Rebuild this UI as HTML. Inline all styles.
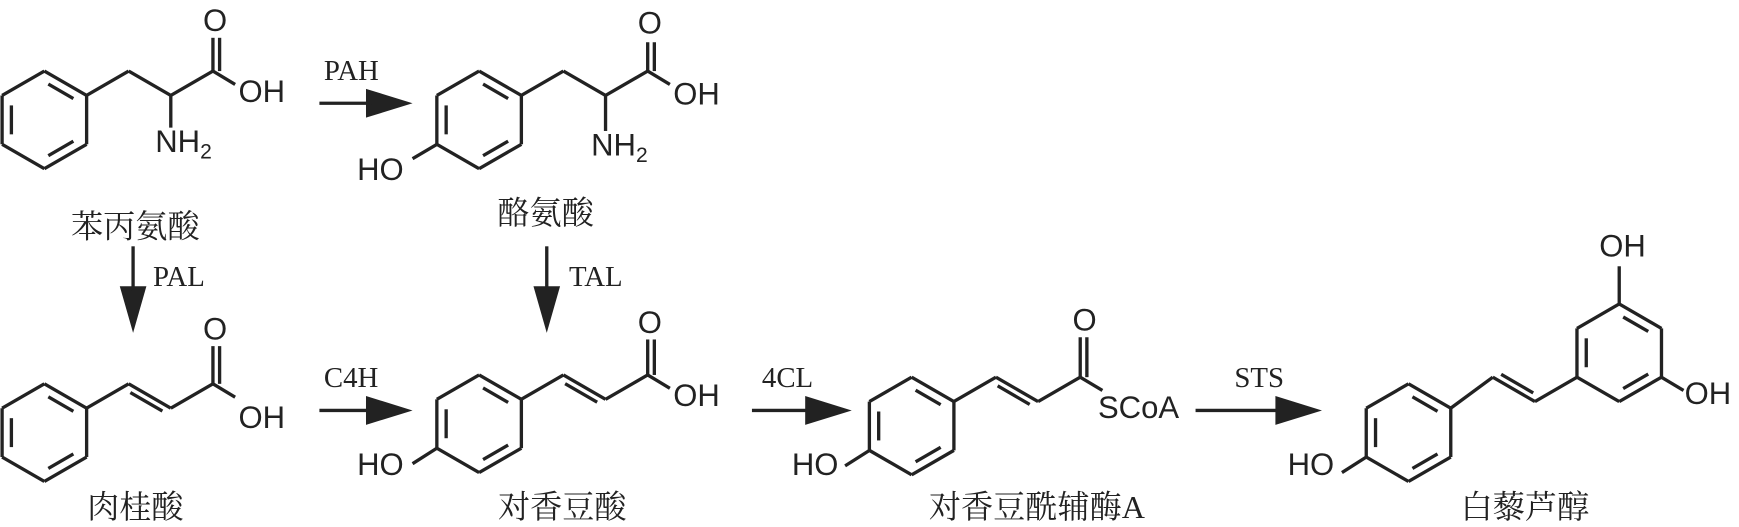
<!DOCTYPE html>
<html><head><meta charset="utf-8"><style>
html,body{margin:0;padding:0;background:#fff;}
svg{display:block}
.s{font-family:"Liberation Sans",sans-serif;font-size:28px;fill:#222}
.r{font-family:"Liberation Serif",serif;font-size:26px;fill:#222}
.c{font-family:"Liberation Serif","Noto Serif CJK SC",serif;font-size:29px;fill:#222}
</style></head><body>
<svg id="g" width="1739" height="527" viewBox="0 0 1568 475" xmlns="http://www.w3.org/2000/svg">
<g id="b" stroke="#222" stroke-width="3" fill="none" stroke-linejoin="round"></g>
<g fill="#222">
<polygon points="330,80 372,93 330,106"/>
<polygon points="330,357 372,370 330,383"/>
<polygon points="726,357 768,370 726,383"/>
<polygon points="1150,357 1192,370 1150,383"/>
<polygon points="108,258 120,300 132,258"/>
<polygon points="481,258 493,300 505,258"/>
</g>
<g stroke="#222" stroke-width="3">
<line x1="288" y1="93" x2="335" y2="93"/>
<line x1="288" y1="370" x2="335" y2="370"/>
<line x1="678" y1="370" x2="730" y2="370"/>
<line x1="1078" y1="370" x2="1155" y2="370"/>
<line x1="120" y1="222" x2="120" y2="262"/>
<line x1="493" y1="222" x2="493" y2="262"/>
</g>
<text class="r" x="292" y="72">PAH</text>
<text class="r" x="292" y="349">C4H</text>
<text class="r" x="687" y="349">4CL</text>
<text class="r" x="1113" y="349">STS</text>
<text class="r" x="138" y="258">PAL</text>
<text class="r" x="513" y="258">TAL</text>

<text class="s" x="183" y="28">O</text>
<text class="s" x="215" y="92">OH</text>
<text class="s" x="140" y="137">NH<tspan font-size="19" dy="6">2</tspan></text>
<text class="s" x="575" y="30">O</text>
<text class="s" x="607" y="94">OH</text>
<text class="s" x="533" y="140">NH<tspan font-size="19" dy="6">2</tspan></text>
<text class="s" x="322" y="162">HO</text>

<text class="s" x="183" y="306">O</text>
<text class="s" x="215" y="386">OH</text>
<text class="s" x="575" y="300">O</text>
<text class="s" x="607" y="366">OH</text>
<text class="s" x="322" y="428">HO</text>
<text class="s" x="967" y="298">O</text>
<text class="s" x="990" y="377">SCoA</text>
<text class="s" x="714" y="428">HO</text>
<text class="s" x="1161" y="428">HO</text>
<text class="s" x="1442" y="231">OH</text>
<text class="s" x="1519" y="364">OH</text>

<text class="c" x="122" y="214" text-anchor="middle">苯丙氨酸</text>
<text class="c" x="492" y="202" text-anchor="middle">酪氨酸</text>
<text class="c" x="122" y="467" text-anchor="middle">肉桂酸</text>
<text class="c" x="507" y="467" text-anchor="middle">对香豆酸</text>
<text class="c" x="935" y="467" text-anchor="middle">对香豆酰辅酶A</text>
<text class="c" x="1375" y="467" text-anchor="middle">白藜芦醇</text>
</svg>
<script>
var g=document.getElementById('b'),N='http://www.w3.org/2000/svg';
function L(a,b,c,d){var e=document.createElementNS(N,'line');e.setAttribute('x1',a);e.setAttribute('y1',b);e.setAttribute('x2',c);e.setAttribute('y2',d);g.appendChild(e);}
function P(pts){for(var i=0;i<pts.length-1;i++)L(pts[i][0],pts[i][1],pts[i+1][0],pts[i+1][1]);}
function ring(cx,cy){var r=44,v=[];for(var i=0;i<6;i++){var a=(-90+60*i)*Math.PI/180;v.push([cx+r*Math.cos(a),cy+r*Math.sin(a)]);}
for(var i=0;i<6;i++)L(v[i][0],v[i][1],v[(i+1)%6][0],v[(i+1)%6][1]);
[[0,1],[2,3],[4,5]].forEach(function(e){var p=v[e[0]],q=v[e[1]];var k=0.78,s=0.12;
var x1=cx+(p[0]-cx)*k,y1=cy+(p[1]-cy)*k,x2=cx+(q[0]-cx)*k,y2=cy+(q[1]-cy)*k;
var dx=x2-x1,dy=y2-y1;L(x1+dx*s,y1+dy*s,x2-dx*s,y2-dy*s);});return v;}
function dbl(a,b,c,d,side){var dx=c-a,dy=d-b,l=Math.hypot(dx,dy),nx=-dy/l*6*side,ny=dx/l*6*side;L(a+nx+dx*0.12,b+ny+dy*0.12,c+nx-dx*0.12,d+ny-dy*0.12);}
ring(40,108);P([[78,86],[116,64],[154,86],[192,64],[212,76]]);L(154,86,154,115);L(192,64,192,34);L(198,64,198,34);
ring(432,108);L(394,130,372,143);P([[470,86],[508,64],[546,86],[584,64],[604,76]]);L(546,86,546,118);L(584,64,584,38);L(590,64,590,38);
ring(40,390);P([[78,368],[116,346],[154,368],[192,346],[212,358]]);dbl(116,346,154,368,1);L(192,346,192,312);L(198,346,198,312);
ring(432,382);L(394,404,372,418);P([[470,360],[508,338],[546,360],[584,338],[604,350]]);dbl(508,338,546,360,1);L(584,338,584,306);L(590,338,590,306);
ring(822,384);L(784,406,762,420);P([[860,362],[898,340],[936,362],[974,340],[994,352]]);dbl(898,340,936,362,1);L(974,340,974,304);L(980,340,980,304);
ring(1270,390);L(1232,412,1210,426);P([[1308,368],[1346,340],[1384,362],[1422,340]]);dbl(1346,340,1384,362,-1);
ring(1460,318);L(1460,274,1460,240);L(1498,340,1518,352);
</script>
</body></html>
